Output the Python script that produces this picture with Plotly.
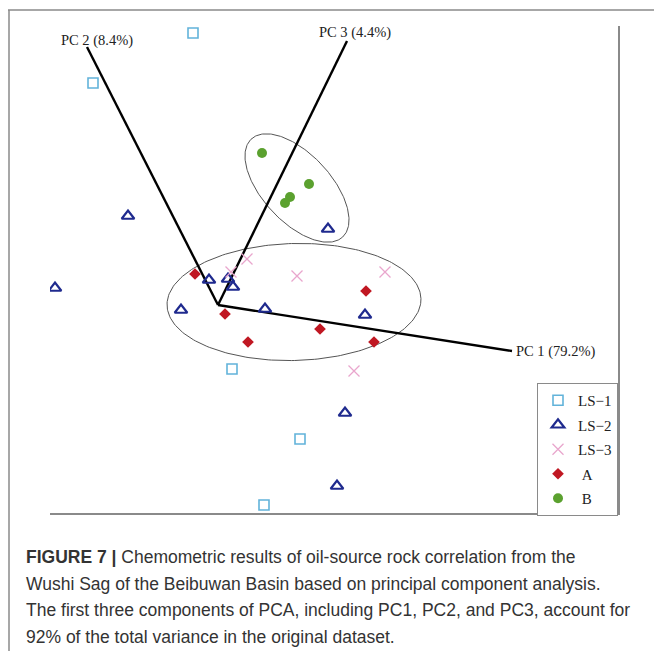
import numpy as np
import plotly.graph_objects as go

# PCA scores (PC1, PC2) for each sample group
ls1_x = [-0.25, -1.25, 0.14, 0.82, 0.46]
ls1_y = [2.72, 2.22, -0.64, -1.34, -2.00]

ls2_x = [-0.90, -1.63, -0.09, 0.10, 0.15, -0.37, 0.47, 1.47, 1.10, 1.27, 1.19]
ls2_y = [0.89, 0.17, 0.25, 0.26, 0.18, -0.05, -0.04, -0.10, 0.76, -1.08, -1.81]

ls3_x = [0.29, 0.13, 0.79, 1.67, 1.36]
ls3_y = [0.46, 0.33, 0.29, 0.33, -0.66]

oil_a_x = [-0.23, 0.07, 0.30, 1.02, 1.48, 1.56]
oil_a_y = [0.31, -0.09, -0.37, -0.24, 0.14, -0.37]

oil_b_x = [0.44, 0.91, 0.72, 0.67]
oil_b_y = [1.52, 1.21, 1.08, 1.02]

# Component loading vectors drawn from the origin
pc_names = ["PC 1 (79.2%)", "PC 2 (8.4%)", "PC 3 (4.4%)"]
pc_end_x = [2.94, -1.31, 1.29]
pc_end_y = [-0.46, 2.58, 2.64]

# Grouping ellipses: centre, semi-axes, rotation (degrees)
ell_cx = [0.76, 0.79]
ell_cy = [0.03, 1.17]
ell_a = [1.27, 0.67]
ell_b = [0.585, 0.34]
ell_rot = [1.5, -47.0]

X_RANGE = [-1.68, 4.00]
Y_RANGE = [-2.08, 2.79]

fig = go.Figure()

# ellipses
t = np.linspace(0, 2 * np.pi, 240)
for cx, cy, a, b, r in zip(ell_cx, ell_cy, ell_a, ell_b, ell_rot):
    th = np.deg2rad(r)
    ex = cx + a * np.cos(t) * np.cos(th) - b * np.sin(t) * np.sin(th)
    ey = cy + a * np.cos(t) * np.sin(th) + b * np.sin(t) * np.cos(th)
    fig.add_trace(go.Scatter(x=ex, y=ey, mode="lines",
                             line=dict(color="#555555", width=1),
                             showlegend=False, hoverinfo="skip"))

# loading vectors
for ex, ey in zip(pc_end_x, pc_end_y):
    fig.add_trace(go.Scatter(x=[0, ex], y=[0, ey], mode="lines",
                             line=dict(color="black", width=2.4),
                             showlegend=False, hoverinfo="skip"))

serif = "Liberation Serif"

fig.add_trace(go.Scatter(x=ls1_x, y=ls1_y, mode="markers", name="LS\u22121",
                         legendgroup="g1",
                         marker=dict(symbol="square-open", size=10, color="#62B3DA",
                                     line=dict(width=1.6))))
fig.add_trace(go.Scatter(x=ls2_x, y=ls2_y, mode="markers", name="LS\u22122",
                         legendgroup="g2",
                         marker=dict(symbol="triangle-up-open", size=11, color="#1F2A8E",
                                     line=dict(width=2.2))))
fig.add_trace(go.Scatter(x=ls3_x, y=ls3_y, mode="markers", name="LS\u22123",
                         legendgroup="g3",
                         marker=dict(symbol="x-thin-open", size=11, color="#E9A6CD",
                                     line=dict(width=1.3))))
fig.add_trace(go.Scatter(x=oil_a_x, y=oil_a_y, mode="markers", name="\u00a0A",
                         legendgroup="g4",
                         marker=dict(symbol="diamond", size=9, color="#C01722")))
fig.add_trace(go.Scatter(x=oil_b_x, y=oil_b_y, mode="markers", name="\u00a0B",
                         legendgroup="g5",
                         marker=dict(symbol="circle", size=10, color="#5BA12F")))

# vector labels
lab_font = dict(family=serif, size=14.5, color="#222222")
fig.add_annotation(x=2.96, y=-0.46, text=pc_names[0], showarrow=False,
                   xanchor="left", yanchor="middle", font=lab_font)
fig.add_annotation(x=-1.21, y=2.65, text=pc_names[1], showarrow=False,
                   xanchor="center", yanchor="middle", font=lab_font)
fig.add_annotation(x=1.37, y=2.73, text=pc_names[2], showarrow=False,
                   xanchor="center", yanchor="middle", font=lab_font)

# page geometry helpers (pixel -> paper)
L, R, T, B = 50, 36, 26, 138
W, H = 654, 651
PW, PH = W - L - R, H - T - B


def px(x):
    return (x - L) / PW


def py(y):
    return (H - B - y) / PH


# outer frame lines
frame = dict(color="#8a8a8a", width=1.5)
fig.add_shape(type="line", xref="paper", yref="paper",
              x0=px(8), y0=py(10), x1=px(654), y1=py(10), line=frame)
fig.add_shape(type="line", xref="paper", yref="paper",
              x0=px(9), y0=py(10), x1=px(9), y1=py(651), line=frame)

# caption
caption = [
    "<b>FIGURE 7 |</b> Chemometric results of oil-source rock correlation from the",
    "Wushi Sag of the Beibuwan Basin based on principal component analysis.",
    "The first three components of PCA, including PC1, PC2, and PC3, account for",
    "92% of the total variance in the original dataset.",
]
for i, line in enumerate(caption):
    fig.add_annotation(xref="paper", yref="paper", x=px(24), y=py(557 + 26.7 * i),
                       text=line, showarrow=False, xanchor="left", yanchor="middle",
                       font=dict(family="Liberation Sans", size=17.5, color="#333333"))

fig.update_layout(
    width=W, height=H,
    margin=dict(l=L, r=R, t=T, b=B, pad=0),
    plot_bgcolor="white", paper_bgcolor="white",
    xaxis=dict(range=X_RANGE, showgrid=False, zeroline=False, showticklabels=False,
               ticks="", showline=True, linecolor="#8a8a8a", linewidth=1.5, mirror=False),
    yaxis=dict(range=Y_RANGE, side="right", showgrid=False, zeroline=False,
               showticklabels=False, ticks="", showline=True, linecolor="#8a8a8a",
               linewidth=1.5, mirror=False),
    legend=dict(x=1.0, y=py(383), xanchor="right", yanchor="top",
                bordercolor="#8a8a8a", borderwidth=1, bgcolor="white",
                font=dict(family=serif, size=15, color="#222222"),
                tracegroupgap=2),
    showlegend=True,
)

fig.write_html("out.html")
